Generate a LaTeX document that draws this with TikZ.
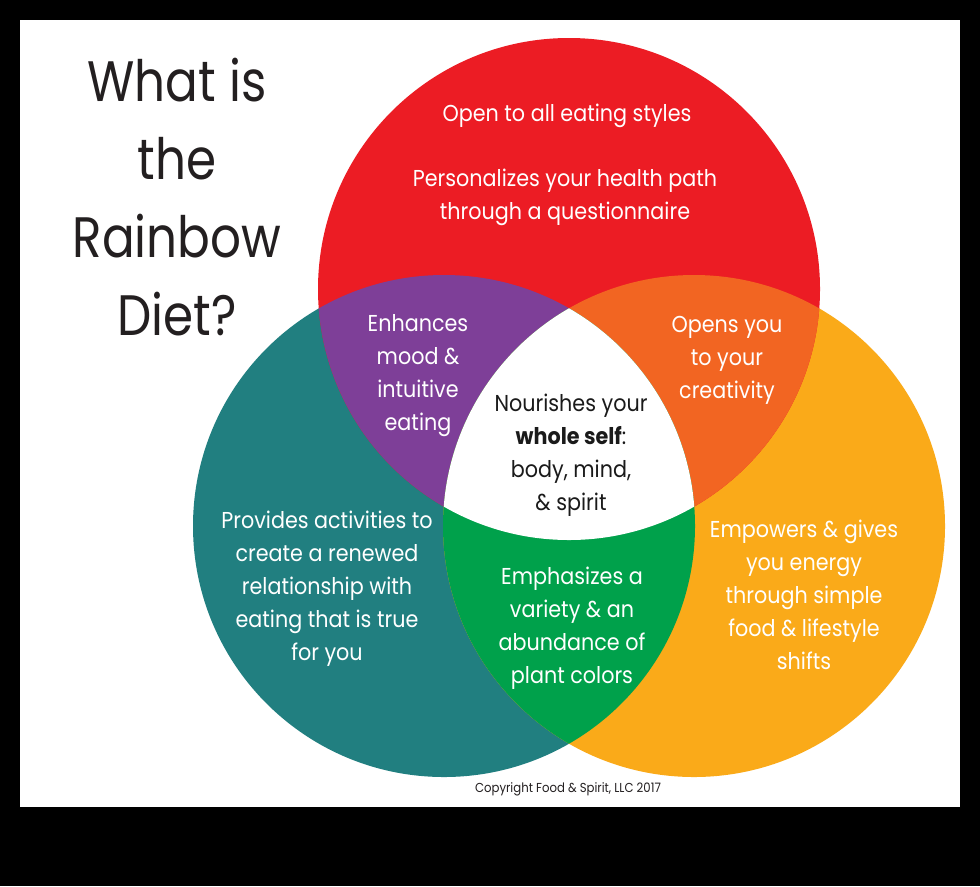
\documentclass[tikz,border=0pt]{standalone}
\usepackage{fontspec}
\setmainfont{Poppins}
\newfontfamily\bodyfont[FakeStretch=0.9]{Poppins}
\newfontfamily\titlefont[FakeStretch=0.85]{Poppins}
\definecolor{cred}{HTML}{EC1C24}
\definecolor{cpurple}{HTML}{7E3F98}
\definecolor{corange}{HTML}{F26522}
\definecolor{cteal}{HTML}{217F80}
\definecolor{cgreen}{HTML}{00A14B}
\definecolor{cyellow}{HTML}{FAAA19}
\definecolor{ctitle}{HTML}{231F20}
\definecolor{ctext}{HTML}{1A1A1A}
\begin{document}
\begin{tikzpicture}[x=0.75pt,y=-0.75pt,
  txt/.style={inner sep=0pt, anchor=base, align=center, text=white,
    font=\bodyfont\fontsize{17.25pt}{24.75pt}\selectfont},
  titletxt/.style={inner sep=0pt, anchor=base, align=center, text=ctitle,
    font=\titlefont\fontsize{42.75pt}{58.3pt}\selectfont},
  copytxt/.style={inner sep=0pt, anchor=base, text=ctitle,
    font=\bodyfont\fontsize{9.75pt}{12pt}\selectfont}]
\def\R{188.25pt}
\useasboundingbox (0,0) rectangle (980,886);
\fill[black] (0,0) rectangle (980,886);
\fill[white] (20,20) rectangle (960,807);
\coordinate (cR) at (569,289);
\coordinate (cT) at (444,526);
\coordinate (cY) at (694,526);
% circles
\fill[cteal] (cT) circle[radius=\R];
\fill[cyellow] (cY) circle[radius=\R];
\fill[cred] (cR) circle[radius=\R];
\begin{scope}
  \clip (cR) circle[radius=\R];
  \fill[cpurple] (cT) circle[radius=\R];
\end{scope}
\begin{scope}
  \clip (cR) circle[radius=\R];
  \fill[corange] (cY) circle[radius=\R];
\end{scope}
\begin{scope}
  \clip (cT) circle[radius=\R];
  \fill[cgreen] (cY) circle[radius=\R];
\end{scope}
\begin{scope}
  \clip (cR) circle[radius=\R];
  \clip (cT) circle[radius=\R];
  \fill[white] (cY) circle[radius=\R];
\end{scope}
% texts (anchor = baseline of the last line)
\node[titletxt] (title) at (177,335) {What is\\the\\Rainbow\\Diet?};
\node[txt] (red1) at (567,121) {Open to all eating styles};
\node[txt] (red2) at (565,219) {Personalizes your health path\\through a questionnaire};
\node[txt] (purple) at (418,430) {Enhances\\mood \&\\intuitive\\eating};
\node[txt] (orange) at (727,398) {Opens you\\to your\\creativity};
\node[txt, text=ctext] (centre) at (571,510) {Nourishes your\\\textbf{whole self}:\\body, mind,\\\& spirit};
\node[txt] (teal) at (327,660) {Provides activities to\\create a renewed\\relationship with\\eating that is true\\for you};
\node[txt] (green) at (572,683) {Emphasizes a\\variety \& an\\abundance of\\plant colors};
\node[txt] (yellow) at (804,669) {Empowers \& gives\\you energy\\through simple\\food \& lifestyle\\shifts};
\node[copytxt] (copy) at (568,792) {Copyright Food \& Spirit, LLC 2017};
\end{tikzpicture}
\end{document}
